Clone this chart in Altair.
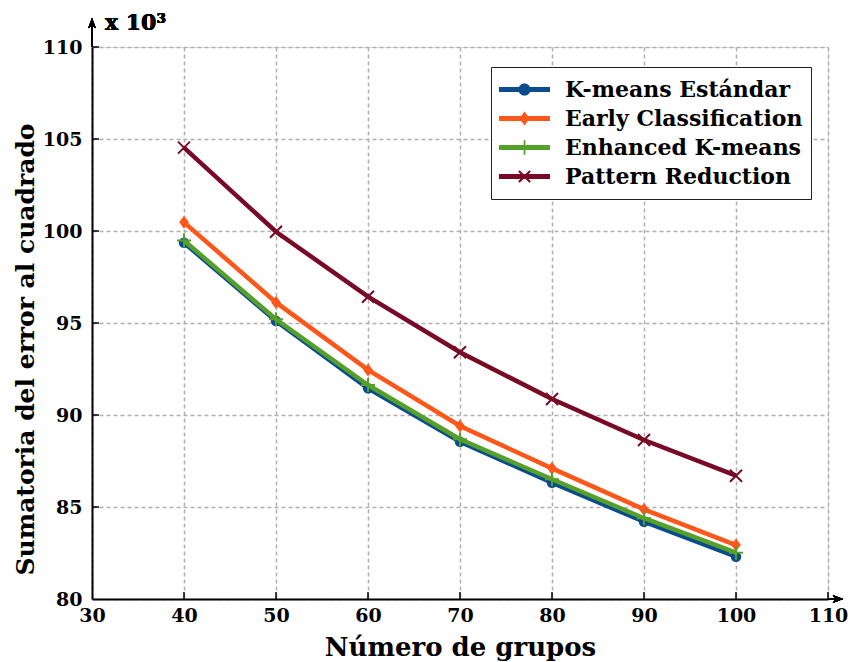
import altair as alt
import pandas as pd

# ---------------- data ----------------
x_groups = [40, 50, 60, 70, 80, 90, 100]
kmeans_std = [99.36, 95.11, 91.45, 88.55, 86.32, 84.20, 82.30]
early_cls = [100.47, 96.12, 92.45, 89.40, 87.10, 84.87, 82.93]
enhanced = [99.48, 95.20, 91.63, 88.68, 86.51, 84.39, 82.52]
pattern_red = [104.53, 99.96, 96.43, 93.41, 90.87, 88.64, 86.70]

series_names = ["K-means Estándar", "Early Classification", "Enhanced K-means", "Pattern Reduction"]
series_values = [kmeans_std, early_cls, enhanced, pattern_red]
series_colors = ["#0b4c8c", "#ff5719", "#55a02a", "#780a28"]

x_ticks = [30, 40, 50, 60, 70, 80, 90, 100, 110]
y_ticks = [80, 85, 90, 95, 100, 105, 110]

x_title = "Número de  grupos"
y_title = "Sumatoria del error al cuadrado"
scale_note = "x 10³"

# ---------------- tables ----------------
rows = []
for name, vals in zip(series_names, series_values):
    for xv, yv in zip(x_groups, vals):
        rows.append({"series": name, "grupos": xv, "sse": yv})
df = pd.DataFrame(rows)
df_xt = pd.DataFrame({"t": x_ticks[1:]})
df_yt = pd.DataFrame({"t": y_ticks[1:]})

FONT = "DejaVu Serif"
W, H = 736, 552
GRID = dict(grid=True, gridColor="#b0b0b0", gridDash=[4, 3], gridWidth=1.5)

xs = alt.Scale(domain=[30, 110], nice=False, zero=False)
ys = alt.Scale(domain=[80, 110], nice=False, zero=False)

X = alt.X("grupos:Q", scale=xs, axis=alt.Axis(
    values=x_ticks, title=x_title, ticks=False, tickSize=0, **GRID,
    labelPadding=7, labelFontSize=19, labelFont=FONT, labelFontWeight="bold",
    labelColor="black", labelBaseline="top", labelFlush=False,
    titleFont=FONT, titleFontSize=26, titleFontWeight="bold", titleColor="black",
    titleX=368, titleY=56, titleAlign="center", titleBaseline="alphabetic",
    domainColor="black", domainWidth=2,
))
Y = alt.Y("sse:Q", scale=ys, axis=alt.Axis(
    values=y_ticks, title=y_title, ticks=False, tickSize=0, **GRID,
    labelPadding=10, labelFontSize=19, labelFont=FONT, labelFontWeight="bold",
    labelColor="black", labelBaseline="middle", labelFlush=False,
    titleFont=FONT, titleFontSize=25, titleFontWeight="bold", titleColor="black",
    titleX=-59, titleY=302, titleAngle=270, titleAlign="center", titleBaseline="alphabetic",
    domainColor="black", domainWidth=2,
))

# legend symbols: line segment + marker
bar = "M-1,-0.1H1V0.1H-1Z"
legend_paths = [
    bar + " M0.24,0A0.24,0.24 0 1,1 -0.24,0A0.24,0.24 0 1,1 0.24,0Z",
    bar + " M0,-0.27L0.2,0L0,0.27L-0.2,0Z",
    bar + " M-0.035,-0.28H0.035V0.28H-0.035Z",
    bar + " M-0.25,-0.19L-0.19,-0.25L0.25,0.19L0.19,0.25Z M-0.25,0.19L0.19,-0.25L0.25,-0.19L-0.19,0.25Z",
]

legend_def = dict(
    orient="none", legendX=399, legendY=20, title=None,
    strokeColor="#222222", fillColor="white", padding=8, cornerRadius=0,
    labelFont=FONT, labelFontSize=22, labelFontWeight="bold", labelColor="black",
    labelLimit=500, labelOffset=15, symbolSize=2600, clipHeight=29, rowPadding=0,
    symbolOpacity=1, symbolStrokeWidth=0,
)

legend_layer = alt.Chart(df).mark_point(filled=True, opacity=0, size=2600).encode(
    x=X, y=Y,
    color=alt.Color("series:N", scale=alt.Scale(domain=series_names, range=series_colors),
                    legend=alt.Legend(**legend_def)),
    shape=alt.Shape("series:N", scale=alt.Scale(domain=series_names, range=legend_paths),
                    legend=alt.Legend(**legend_def)),
)

marker_specs = [
    dict(shape="circle", filled=True, size=110, strokeWidth=0),
    dict(shape="M0,-1L0.75,0L0,1L-0.75,0Z", filled=True, size=170, strokeWidth=0),
    dict(shape="M-1,0H1M0,-1V1", filled=False, size=196, strokeWidth=2),
    dict(shape="M-1,-1L1,1M-1,1L1,-1", filled=False, size=144, strokeWidth=2),
]

layers = [legend_layer]
for name, col, ms in zip(series_names, series_colors, marker_specs):
    base = alt.Chart(df).transform_filter(alt.datum.series == name)
    layers.append(base.mark_line(strokeWidth=4.5, color=col, clip=False).encode(x=X, y=Y, order="grupos:Q"))
    layers.append(base.mark_point(opacity=1, color=col, **ms).encode(x=X, y=Y))

# inward ticks
x_tick_rules = alt.Chart(df_xt).mark_rule(color="black", strokeWidth=1.5).encode(
    x=alt.X("t:Q", scale=xs), y=alt.value(H), y2=alt.value(H - 7))
y_tick_rules = alt.Chart(df_yt).mark_rule(color="black", strokeWidth=1.5).encode(
    y=alt.Y("t:Q", scale=ys), x=alt.value(0), x2=alt.value(7))

# axis arrows
x_ext = alt.Chart(df_xt).mark_rule(color="black", strokeWidth=2).encode(
    x=alt.value(W), x2=alt.value(W + 12), y=alt.value(H))
x_head = alt.Chart(df_xt).mark_point(shape="M1,0L-1,-0.75L-0.55,0L-1,0.75Z", filled=True, color="black",
                                     size=110, opacity=1, strokeWidth=0).encode(
    x=alt.value(W + 10), y=alt.value(H))
y_ext = alt.Chart(df_yt).mark_rule(color="black", strokeWidth=2).encode(
    x=alt.value(0), y=alt.value(0), y2=alt.value(-22))
y_head = alt.Chart(df_yt).mark_point(shape="M0,-1L-0.75,1L0,0.55L0.75,1Z", filled=True, color="black",
                                     size=110, opacity=1, strokeWidth=0).encode(
    x=alt.value(0), y=alt.value(-24))

note = alt.Chart(df_yt).mark_text(text=scale_note, font=FONT, fontSize=22, fontWeight="bold",
                                  align="left", baseline="alphabetic", color="black").encode(
    x=alt.value(13), y=alt.value(-17))

chart = alt.layer(
    *layers, x_tick_rules, y_tick_rules, x_ext, x_head, y_ext, y_head, note
).properties(
    width=W, height=H,
    autosize=alt.AutoSizeParams(type="none"),
    padding={"left": 92, "top": 47, "right": 24, "bottom": 63},
).configure_view(stroke=None).configure(background="white")

chart.save("out.html", embed_options={"renderer": "svg", "actions": False})
